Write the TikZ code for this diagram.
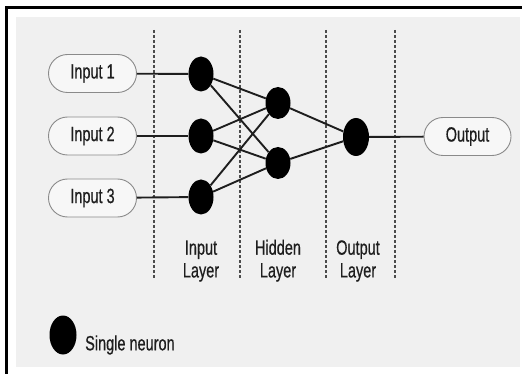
\documentclass[tikz,border=0pt]{standalone}
\usepackage{fontspec}
\setmainfont{Liberation Sans}[FakeBold=0.7]
\usetikzlibrary{shapes.geometric}
\definecolor{panel}{HTML}{F0F0F0}
\definecolor{boxfill}{HTML}{F7F7F7}
\definecolor{boxline}{HTML}{8A8A8A}
\definecolor{ink}{HTML}{1E1E1E}
\newcommand{\stretchtxt}[1]{\scalebox{1}[1.42]{#1}}
\tikzset{
  txt/.style={font=\fontsize{14.5}{16}\selectfont, text=ink, inner sep=0pt},
  pill/.style={txt, draw=boxline, line width=0.9pt, fill=boxfill, rounded corners=19pt,
               minimum width=88pt, minimum height=38pt},
  neuron/.style={ellipse, fill=black, draw=none, inner sep=0pt},
  link/.style={draw=ink, line width=1.9pt},
  sep/.style={draw=ink!80, line width=1.1pt, dash pattern=on 3pt off 2pt},
}
\begin{document}
\begin{tikzpicture}[x=1pt,y=-1pt]
\useasboundingbox (0,0) rectangle (522,374);
\fill[white] (0,0) rectangle (522,374);
\fill[panel] (16,17) rectangle (520,367);
\draw[black, line width=3pt] (6.5,374) -- (6.5,7.5) -- (522,7.5);

% separators
\coordinate (s1t) at (154,30); \coordinate (s1b) at (154,279);
\coordinate (s2t) at (240,30); \coordinate (s2b) at (240,279);
\coordinate (s3t) at (326,30); \coordinate (s3b) at (326,279);
\coordinate (s4t) at (395,30); \coordinate (s4b) at (395,279);
\draw[sep] (s1t) -- (s1b);
\draw[sep] (s2t) -- (s2b);
\draw[sep] (s3t) -- (s3b);
\draw[sep] (s4t) -- (s4b);

% input boxes
\node[pill] (in1) at (92.5,73.5) {\stretchtxt{Input 1}};
\node[pill] (in2) at (92.5,136) {\stretchtxt{Input 2}};
\node[pill] (in3) at (92.5,198) {\stretchtxt{Input 3}};
\node[pill, minimum width=87pt] (out) at (467.5,136.5) {\stretchtxt{Output}};

% neurons
\node[neuron, minimum width=25pt, minimum height=35pt] (n1) at (201,74) {};
\node[neuron, minimum width=25pt, minimum height=35pt] (n2) at (201,136) {};
\node[neuron, minimum width=25pt, minimum height=35pt] (n3) at (201,197) {};
\node[neuron, minimum width=25pt, minimum height=32pt] (h1) at (278,103) {};
\node[neuron, minimum width=25pt, minimum height=32pt] (h2) at (278,163) {};
\node[neuron, minimum width=26pt, minimum height=38pt] (o) at (356,137) {};

% connectors
\draw[link] (in1) -- (n1);
\draw[link] (in2) -- (n2);
\draw[link] (in3) -- (n3);
\foreach \a in {n1,n2,n3}{
  \foreach \b in {h1,h2}{
    \draw[link] (\a) -- (\b);
  }
}
\draw[link] (h1) -- (o);
\draw[link] (h2) -- (o);
\draw[link] (o) -- (out);

% layer labels
\node[txt] (lin) at (201,261.5) {\stretchtxt{\begin{tabular}{@{}c@{}}Input\\[0pt]Layer\end{tabular}}};
\node[txt] (lhid) at (278,261.5) {\stretchtxt{\begin{tabular}{@{}c@{}}Hidden\\[0pt]Layer\end{tabular}}};
\node[txt] (lout) at (358,261.5) {\stretchtxt{\begin{tabular}{@{}c@{}}Output\\[0pt]Layer\end{tabular}}};

% legend
\node[neuron, minimum width=27pt, minimum height=39pt] (leg) at (63,335) {};
\node[txt, anchor=west] (legt) at (85,345) {\stretchtxt{Single neuron}};
\end{tikzpicture}
\end{document}
